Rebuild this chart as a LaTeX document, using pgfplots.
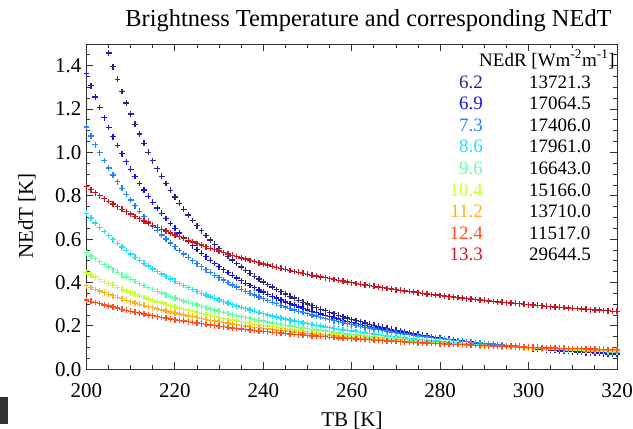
\documentclass[border=0pt]{standalone}
\usepackage{fontspec}
\setmainfont{Liberation Serif}
\usepackage{pgfplots}
\usepackage{pgfplotstable}
\pgfplotsset{compat=1.18}

% channel colours (rainbow table)
\definecolor{c62}{RGB}{38,38,140}
\definecolor{c69}{RGB}{22,22,230}
\definecolor{c73}{RGB}{40,130,255}
\definecolor{c86}{RGB}{35,222,255}
\definecolor{c96}{RGB}{100,255,165}
\definecolor{c104}{RGB}{200,255,50}
\definecolor{c112}{RGB}{255,178,30}
\definecolor{c124}{RGB}{255,80,30}
\definecolor{c133}{RGB}{200,25,35}

% NEdT [K] vs TB [K]; columns a..i = 6.2 6.9 7.3 8.6 9.6 10.4 11.2 12.4 13.3
\pgfplotstableread{
T a b c d e f g h i
200 nan 1.363 1.117 0.719 0.538 0.446 0.385 0.320 0.842
201 nan 1.308 1.076 0.697 0.523 0.435 0.377 0.314 0.828
202 nan 1.256 1.036 0.675 0.510 0.425 0.368 0.308 0.814
203 nan 1.207 0.999 0.655 0.496 0.415 0.361 0.303 0.800
204 nan 1.160 0.963 0.635 0.483 0.405 0.353 0.297 0.787
205 1.458 1.115 0.929 0.616 0.471 0.396 0.346 0.292 0.774
206 1.395 1.073 0.896 0.598 0.459 0.387 0.339 0.287 0.762
207 1.337 1.032 0.865 0.580 0.447 0.378 0.332 0.282 0.750
208 1.281 0.994 0.835 0.564 0.436 0.369 0.325 0.277 0.738
209 1.228 0.957 0.807 0.548 0.425 0.361 0.318 0.272 0.727
210 1.178 0.922 0.780 0.532 0.415 0.353 0.312 0.268 0.716
211 1.130 0.889 0.754 0.517 0.405 0.346 0.306 0.263 0.705
212 1.085 0.857 0.729 0.503 0.395 0.338 0.300 0.259 0.694
213 1.042 0.827 0.705 0.489 0.386 0.331 0.295 0.255 0.684
214 1.001 0.798 0.682 0.476 0.377 0.324 0.289 0.251 0.674
215 0.962 0.770 0.661 0.463 0.368 0.318 0.284 0.247 0.664
216 0.925 0.744 0.640 0.451 0.360 0.311 0.278 0.243 0.655
217 0.890 0.719 0.620 0.439 0.352 0.305 0.273 0.239 0.646
218 0.857 0.695 0.601 0.428 0.344 0.299 0.269 0.236 0.637
219 0.825 0.672 0.582 0.417 0.336 0.293 0.264 0.232 0.628
220 0.794 0.650 0.565 0.406 0.329 0.287 0.259 0.229 0.620
221 0.765 0.628 0.548 0.396 0.322 0.282 0.255 0.225 0.611
222 0.738 0.608 0.532 0.386 0.315 0.276 0.250 0.222 0.603
223 0.711 0.589 0.516 0.377 0.308 0.271 0.246 0.219 0.595
224 0.686 0.570 0.501 0.368 0.302 0.266 0.242 0.216 0.587
225 0.662 0.552 0.487 0.359 0.296 0.261 0.238 0.213 0.580
226 0.639 0.535 0.473 0.350 0.290 0.256 0.234 0.210 0.573
227 0.617 0.519 0.459 0.342 0.284 0.252 0.230 0.207 0.565
228 0.596 0.503 0.447 0.334 0.278 0.247 0.226 0.204 0.558
229 0.576 0.488 0.434 0.327 0.273 0.243 0.223 0.201 0.552
230 0.557 0.473 0.422 0.319 0.267 0.239 0.219 0.198 0.545
231 0.538 0.459 0.411 0.312 0.262 0.234 0.216 0.196 0.538
232 0.521 0.446 0.400 0.305 0.257 0.230 0.213 0.193 0.532
233 0.504 0.433 0.389 0.298 0.252 0.227 0.209 0.191 0.526
234 0.488 0.421 0.379 0.292 0.247 0.223 0.206 0.188 0.520
235 0.472 0.409 0.369 0.285 0.243 0.219 0.203 0.186 0.514
236 0.457 0.397 0.360 0.279 0.238 0.215 0.200 0.184 0.508
237 0.443 0.386 0.350 0.273 0.234 0.212 0.197 0.181 0.502
238 0.429 0.376 0.342 0.267 0.230 0.208 0.194 0.179 0.497
239 0.416 0.365 0.333 0.262 0.226 0.205 0.192 0.177 0.491
240 0.403 0.356 0.325 0.256 0.222 0.202 0.189 0.175 0.486
241 0.391 0.346 0.317 0.251 0.218 0.199 0.186 0.173 0.481
242 0.380 0.337 0.309 0.246 0.214 0.196 0.184 0.171 0.475
243 0.368 0.328 0.302 0.241 0.210 0.193 0.181 0.169 0.470
244 0.358 0.320 0.294 0.236 0.207 0.190 0.179 0.167 0.466
245 0.347 0.311 0.287 0.232 0.203 0.187 0.176 0.165 0.461
246 0.337 0.303 0.281 0.227 0.200 0.184 0.174 0.163 0.456
247 0.328 0.296 0.274 0.223 0.196 0.181 0.172 0.161 0.451
248 0.318 0.288 0.268 0.219 0.193 0.179 0.169 0.160 0.447
249 0.309 0.281 0.262 0.214 0.190 0.176 0.167 0.158 0.443
250 0.301 0.274 0.256 0.210 0.187 0.174 0.165 0.156 0.438
251 0.293 0.267 0.250 0.207 0.184 0.171 0.163 0.154 0.434
252 0.285 0.261 0.245 0.203 0.181 0.169 0.161 0.153 0.430
253 0.277 0.255 0.239 0.199 0.178 0.166 0.159 0.151 0.426
254 0.270 0.249 0.234 0.195 0.176 0.164 0.157 0.150 0.422
255 0.262 0.243 0.229 0.192 0.173 0.162 0.155 0.148 0.418
256 0.256 0.237 0.224 0.189 0.170 0.160 0.153 0.147 0.414
257 0.249 0.232 0.219 0.185 0.168 0.158 0.151 0.145 0.410
258 0.242 0.226 0.215 0.182 0.165 0.156 0.150 0.144 0.407
259 0.236 0.221 0.210 0.179 0.163 0.154 0.148 0.142 0.403
260 0.230 0.216 0.206 0.176 0.160 0.152 0.146 0.141 0.399
261 0.224 0.212 0.202 0.173 0.158 0.150 0.144 0.140 0.396
262 0.219 0.207 0.198 0.170 0.156 0.148 0.143 0.138 0.392
263 0.213 0.202 0.194 0.167 0.154 0.146 0.141 0.137 0.389
264 0.208 0.198 0.190 0.164 0.152 0.144 0.140 0.136 0.386
265 0.203 0.194 0.186 0.162 0.149 0.142 0.138 0.134 0.383
266 0.198 0.190 0.183 0.159 0.147 0.141 0.137 0.133 0.379
267 0.194 0.186 0.179 0.157 0.145 0.139 0.135 0.132 0.376
268 0.189 0.182 0.176 0.154 0.143 0.137 0.134 0.131 0.373
269 0.185 0.178 0.172 0.152 0.141 0.136 0.132 0.130 0.370
270 0.180 0.174 0.169 0.149 0.140 0.134 0.131 0.128 0.367
271 0.176 0.171 0.166 0.147 0.138 0.132 0.130 0.127 0.364
272 0.172 0.167 0.163 0.145 0.136 0.131 0.128 0.126 0.361
273 0.168 0.164 0.160 0.143 0.134 0.129 0.127 0.125 0.359
274 0.164 0.161 0.157 0.140 0.132 0.128 0.126 0.124 0.356
275 0.161 0.157 0.154 0.138 0.131 0.126 0.124 0.123 0.353
276 0.157 0.154 0.151 0.136 0.129 0.125 0.123 0.122 0.350
277 0.154 0.151 0.149 0.134 0.128 0.124 0.122 0.121 0.348
278 0.150 0.148 0.146 0.132 0.126 0.122 0.121 0.120 0.345
279 0.147 0.146 0.143 0.130 0.124 0.121 0.120 0.119 0.343
280 0.144 0.143 0.141 0.129 0.123 0.120 0.118 0.118 0.340
281 0.141 0.140 0.139 0.127 0.121 0.118 0.117 0.117 0.338
282 0.138 0.138 0.136 0.125 0.120 0.117 0.116 0.116 0.335
283 0.135 0.135 0.134 0.123 0.119 0.116 0.115 0.115 0.333
284 0.132 0.133 0.132 0.122 0.117 0.115 0.114 0.114 0.331
285 0.130 0.130 0.129 0.120 0.116 0.114 0.113 0.114 0.328
286 0.127 0.128 0.127 0.118 0.114 0.112 0.112 0.113 0.326
287 0.124 0.126 0.125 0.117 0.113 0.111 0.111 0.112 0.324
288 0.122 0.123 0.123 0.115 0.112 0.110 0.110 0.111 0.322
289 0.119 0.121 0.121 0.114 0.111 0.109 0.109 0.110 0.320
290 0.117 0.119 0.119 0.112 0.109 0.108 0.108 0.109 0.318
291 0.115 0.117 0.117 0.111 0.108 0.107 0.107 0.109 0.315
292 0.113 0.115 0.116 0.109 0.107 0.106 0.106 0.108 0.313
293 0.110 0.113 0.114 0.108 0.106 0.105 0.105 0.107 0.311
294 0.108 0.111 0.112 0.106 0.105 0.104 0.104 0.106 0.309
295 0.106 0.109 0.110 0.105 0.104 0.103 0.103 0.106 0.307
296 0.104 0.107 0.109 0.104 0.102 0.102 0.103 0.105 0.306
297 0.102 0.106 0.107 0.103 0.101 0.101 0.102 0.104 0.304
298 0.100 0.104 0.106 0.101 0.100 0.100 0.101 0.103 0.302
299 0.099 0.102 0.104 0.100 0.099 0.099 0.100 0.103 0.300
300 0.097 0.101 0.102 0.099 0.098 0.098 0.099 0.102 0.298
301 0.095 0.099 0.101 0.098 0.097 0.097 0.099 0.101 0.296
302 0.093 0.098 0.100 0.096 0.096 0.097 0.098 0.101 0.295
303 0.092 0.096 0.098 0.095 0.095 0.096 0.097 0.100 0.293
304 0.090 0.094 0.097 0.094 0.094 0.095 0.096 0.099 0.291
305 0.088 0.093 0.095 0.093 0.094 0.094 0.096 0.099 0.289
306 0.087 0.092 0.094 0.092 0.093 0.093 0.095 0.098 0.288
307 0.085 0.090 0.093 0.091 0.092 0.092 0.094 0.097 0.286
308 0.084 0.089 0.091 0.090 0.091 0.092 0.093 0.097 0.285
309 0.083 0.088 0.090 0.089 0.090 0.091 0.093 0.096 0.283
310 0.081 0.086 0.089 0.088 0.089 0.090 0.092 0.096 0.281
311 0.080 0.085 0.088 0.087 0.088 0.089 0.091 0.095 0.280
312 0.078 0.084 0.087 0.086 0.088 0.089 0.091 0.095 0.278
313 0.077 0.083 0.085 0.085 0.087 0.088 0.090 0.094 0.277
314 0.076 0.081 0.084 0.084 0.086 0.087 0.089 0.093 0.275
315 0.075 0.080 0.083 0.083 0.085 0.087 0.089 0.093 0.274
316 0.073 0.079 0.082 0.082 0.084 0.086 0.088 0.092 0.273
317 0.072 0.078 0.081 0.082 0.084 0.085 0.088 0.092 0.271
318 0.071 0.077 0.080 0.081 0.083 0.085 0.087 0.091 0.270
319 0.070 0.076 0.079 0.080 0.082 0.084 0.086 0.091 0.268
320 0.069 0.075 0.078 0.079 0.081 0.083 0.086 0.090 0.267
}\nedt

\begin{document}
\begin{tikzpicture}
\path[use as bounding box] (-86.5bp,-59.7bp) rectangle ++(633bp,429bp);
\begin{axis}[
  scale only axis,
  width=530.5bp, height=325.3bp,
  xmin=200, xmax=320, ymin=0, ymax=1.5,
  xtick={200,220,240,260,280,300,320},
  xticklabels={200,220,240,260,280,300,320},
  ytick={0,0.2,0.4,0.6,0.8,1.0,1.2,1.4},
  yticklabels={0.0,0.2,0.4,0.6,0.8,1.0,1.2,1.4},
  minor xtick={205,210,215,225,230,235,245,250,255,265,270,275,285,290,295,305,310,315},
  minor ytick={0.05,0.1,0.15,0.25,0.3,0.35,0.45,0.5,0.55,0.65,0.7,0.75,0.85,0.9,0.95,1.05,1.1,1.15,1.25,1.3,1.35,1.45},
  major tick length=7bp, minor tick length=4bp,
  tick style={black!80, line width=0.9bp},
  axis line style={black!80, line width=0.9bp},
  tick label style={font=\fontsize{21bp}{24bp}\selectfont},
  xticklabel style={yshift=-11bp},
  yticklabel style={xshift=-1.5bp},
  every axis plot/.append style={only marks, mark=+, mark size=2.9bp, mark options={line width=1.35bp}},
]
\addplot[c62]  table[x=T,y=a]{\nedt};
\addplot[c69]  table[x=T,y=b]{\nedt};
\addplot[c73]  table[x=T,y=c]{\nedt};
\addplot[c86]  table[x=T,y=d]{\nedt};
\addplot[c96]  table[x=T,y=e]{\nedt};
\addplot[c104] table[x=T,y=f]{\nedt};
\addplot[c112] table[x=T,y=g]{\nedt};
\addplot[c124] table[x=T,y=h]{\nedt};
\addplot[c133] table[x=T,y=i]{\nedt};
\end{axis}

% title and axis labels
\node[anchor=base, font=\fontsize{24.4bp}{28bp}\selectfont] at (282bp,342.3bp) {Brightness Temperature and corresponding NEdT};
\node[anchor=base, font=\fontsize{21bp}{24bp}\selectfont] at (265.5bp,-56.7bp) {TB [K]};
\node[rotate=90, font=\fontsize{21bp}{24bp}\selectfont] at (-59.5bp,153.3bp) {NEdT [K]};

% channel table in the plot corner
\begin{scope}[every node/.style={font=\fontsize{19bp}{22bp}\selectfont, inner sep=0pt}]
\node[anchor=base west] at (392.5bp,302.8bp) {NEdR [Wm\textsuperscript{-2}m\textsuperscript{-1}]};
\node[anchor=base east, text=c62]  at (396.5bp,281.2bp) {6.2};
\node[anchor=base east, text=c69]  at (396.5bp,259.6bp) {6.9};
\node[anchor=base east, text=c73]  at (396.5bp,237.9bp) {7.3};
\node[anchor=base east, text=c86]  at (396.5bp,216.3bp) {8.6};
\node[anchor=base east, text=c96]  at (396.5bp,194.7bp) {9.6};
\node[anchor=base east, text=c104] at (396.5bp,173.1bp) {10.4};
\node[anchor=base east, text=c112] at (396.5bp,151.5bp) {11.2};
\node[anchor=base east, text=c124] at (396.5bp,129.9bp) {12.4};
\node[anchor=base east, text=c133] at (396.5bp,108.3bp) {13.3};
\node[anchor=base west] at (442.5bp,281.2bp) {13721.3};
\node[anchor=base west] at (442.5bp,259.6bp) {17064.5};
\node[anchor=base west] at (442.5bp,237.9bp) {17406.0};
\node[anchor=base west] at (442.5bp,216.3bp) {17961.0};
\node[anchor=base west] at (442.5bp,194.7bp) {16643.0};
\node[anchor=base west] at (442.5bp,173.1bp) {15166.0};
\node[anchor=base west] at (442.5bp,151.5bp) {13710.0};
\node[anchor=base west] at (442.5bp,129.9bp) {11517.0};
\node[anchor=base west] at (442.5bp,108.3bp) {29644.5};
\end{scope}

\fill[black!80] (-86.5bp,-54.7bp) rectangle (-78.5bp,-27.7bp);
\end{tikzpicture}
\end{document}
